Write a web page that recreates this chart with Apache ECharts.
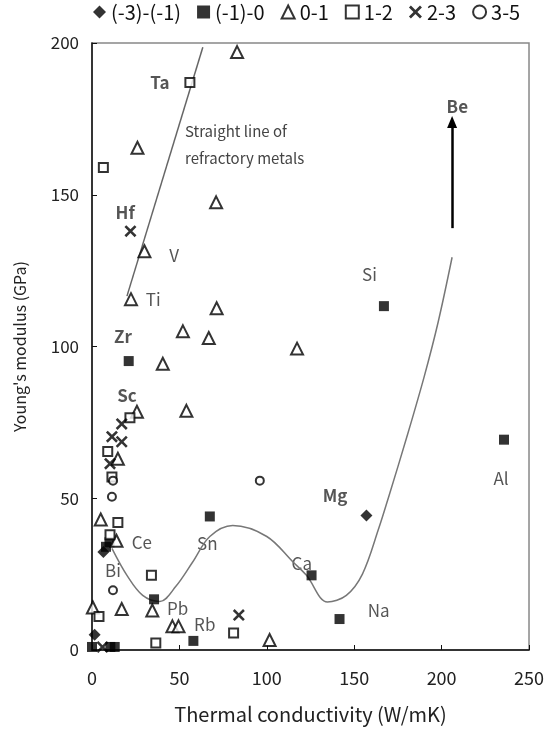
<!DOCTYPE html>
<html>
<head>
<meta charset="utf-8">
<script src="https://cdn.jsdelivr.net/npm/echarts@6/dist/echarts.min.js"></script>
<style>
  html, body { margin: 0; padding: 0; background: #fff; }
  #chart { width: 547px; height: 729px; }
</style>
</head>
<body>
<div id="chart"></div>
<script>
// data: [thermal conductivity, Young's modulus]
const groupNames = ['(-3)-(-1)', '(-1)-0', '0-1', '1-2', '2-3', '3-5']

const diamondPts = [[1.5, 5], [6.5, 32.3], [157, 44.3]]
const filledSquarePts = [
  [167, 113.3], [235.7, 69.3], [21, 95.2], [67.4, 44], [125.6, 24.6],
  [141.6, 10.2], [35.5, 16.7], [58, 3], [10, 35.5], [8, 34],
  [0, 1], [10.5, 1], [13, 1]
]
const trianglePts = [
  [83, 197], [26, 165.5], [71, 147.5], [30, 131.4], [22.3, 115.6],
  [71.3, 112.6], [52, 105], [66.8, 102.8], [117.3, 99.3], [40.5, 94.3],
  [54, 78.8], [25.7, 78.5], [14.8, 63], [5, 43], [14, 36],
  [0.5, 14], [17, 13.5], [34.5, 13], [46, 7.8], [49.5, 7.8], [101.6, 3.3]
]
const openSquarePts = [
  [56, 187], [6.5, 159], [21.7, 76.5], [9, 65.4], [11.4, 57],
  [14.8, 42], [10.3, 38], [34, 24.6], [4, 11], [36.5, 2.3], [81, 5.6]
]
const crossPts = [[22, 138], [17, 74.5], [11.4, 70.3], [17, 68.6], [10.3, 61.4], [84, 11.5], [6, 1]]
const circlePts = [[12, 55.8], [11.4, 50.5], [96, 55.8], [12, 19.7]]

// hand-drawn guide curves
const refractoryLine = [[20, 116.6], [63.4, 198.6]]
const trendCurve = [
  [11.4, 33.5], [20, 24.6], [29, 18], [38.8, 16], [48, 21], [57.6, 29],
  [67.4, 37.4], [80.5, 41], [100, 37.4], [115, 29], [122.7, 24.6],
  [134.7, 15.8], [145.5, 18], [154.7, 25], [164, 40], [170, 51],
  [180, 70], [190, 90], [198, 108], [206, 129.4]
]
const beArrow = [[206, 139], [206, 174]]

// element labels
const elementNames = ['Ta', 'Hf', 'V', 'Ti', 'Zr', 'Sc', 'Ce', 'Bi', 'Sn', 'Pb', 'Rb', 'Ca', 'Na', 'Mg', 'Al', 'Si', 'Be']
const elementPos = [
  [38.8, 187], [19, 144], [47, 130], [35, 115.6], [17.7, 103.4], [20, 83.7],
  [28.5, 35.5], [12, 26.3], [66, 35], [49, 13.5], [64.5, 8.5], [120, 28.6],
  [164, 13], [139, 51], [234, 56.5], [158.7, 123.8], [209, 179]
]
const boldNames = ['Ta', 'Hf', 'Zr', 'Sc', 'Mg', 'Be']

const FONT = 'Noto Sans CJK JP'
const crossPath = 'path://M0,1.5L1.5,0L5,3.5L8.5,0L10,1.5L6.5,5L10,8.5L8.5,10L5,6.5L1.5,10L0,8.5L3.5,5Z'

const openStyle = { color: '#fff', borderColor: '#000', borderWidth: 2 }
const filledStyle = { color: '#000' }

const markerSeries = [
  { data: diamondPts, symbol: 'diamond', symbolSize: 12, itemStyle: filledStyle },
  { data: filledSquarePts, symbol: 'rect', symbolSize: 10, itemStyle: filledStyle },
  { data: trianglePts, symbol: 'triangle', symbolSize: 12, itemStyle: openStyle },
  { data: openSquarePts, symbol: 'rect', symbolSize: 9, itemStyle: openStyle },
  { data: crossPts, symbol: crossPath, symbolSize: 12, itemStyle: filledStyle },
  { data: circlePts, symbol: 'circle', symbolSize: 8, itemStyle: openStyle },
].map((s, i) => ({
  name: groupNames[i],
  type: 'scatter',
  clip: false,
  z: 5,
  ...s,
}))

const chart = echarts.init(document.getElementById('chart'))

chart.setOption({
  animation: false,
  textStyle: { fontFamily: FONT },
  legend: {
    data: groupNames,
    top: 2,
    left: 93,
    width: 454,
    padding: 0,
    itemWidth: 13,
    itemHeight: 13,
    itemGap: 16,
    textStyle: { fontSize: 20, color: '#111', fontFamily: FONT },
  },
  grid: {
    left: 92,
    right: 17,
    top: 43,
    bottom: 77,
    show: true,
    borderColor: '#888',
    borderWidth: 1.5,
  },
  xAxis: {
    type: 'value',
    min: 0,
    max: 250,
    interval: 50,
    name: 'Thermal conductivity (W/mK)',
    nameLocation: 'middle',
    nameGap: 54,
    nameTextStyle: { fontSize: 20, color: '#222', fontFamily: FONT },
    axisLine: { lineStyle: { color: '#111', width: 1.5 } },
    axisTick: { inside: true, length: 5, lineStyle: { color: '#111' } },
    axisLabel: { fontSize: 18, color: '#222', margin: 19, fontFamily: FONT },
    splitLine: { show: false },
  },
  yAxis: {
    type: 'value',
    min: 0,
    max: 200,
    interval: 50,
    name: "Young's modulus (GPa)",
    nameLocation: 'middle',
    nameGap: 64,
    nameTextStyle: { fontSize: 16, color: '#222', fontFamily: FONT },
    axisLine: { lineStyle: { color: '#111', width: 1.5 } },
    axisTick: { inside: true, length: 5, lineStyle: { color: '#111' } },
    axisLabel: { fontSize: 17, color: '#222', margin: 13, fontFamily: FONT },
    splitLine: { show: false },
  },
  series: [
    {
      type: 'line',
      data: refractoryLine,
      symbol: 'none',
      lineStyle: { color: '#666', width: 1.5 },
      silent: true,
    },
    {
      type: 'line',
      data: trendCurve,
      symbol: 'none',
      smooth: 0.35,
      lineStyle: { color: '#777', width: 1.5 },
      silent: true,
    },
    {
      type: 'line',
      data: beArrow,
      symbol: 'none',
      lineStyle: { opacity: 0 },
      silent: true,
      markLine: {
        silent: true,
        symbol: ['none', 'triangle'],
        symbolSize: [10, 12],
        label: { show: false },
        lineStyle: { color: '#000', width: 2.5, type: 'solid' },
        data: [[{ coord: beArrow[0] }, { coord: beArrow[1] }]],
      },
    },
    ...markerSeries,
    {
      type: 'scatter',
      symbolSize: 0,
      silent: true,
      clip: false,
      data: elementNames.map((n, i) => ({
        name: n,
        value: elementPos[i],
        label: boldNames.includes(n) ? { fontWeight: 'bold' } : {},
      })),
      label: {
        show: true,
        position: 'inside',
        formatter: (p) => p.name,
        fontSize: 17,
        fontFamily: FONT,
        color: '#2a2a2a',
      },
      labelLayout: { hideOverlap: false },
    },
  ],
  graphic: [
    {
      type: 'text',
      left: 185,
      top: 118,
      style: {
        text: 'Straight line of\nrefractory metals',
        font: '15px "' + FONT + '"',
        fill: '#444',
        lineHeight: 27,
      },
    },
  ],
})
</script>
</body>
</html>
